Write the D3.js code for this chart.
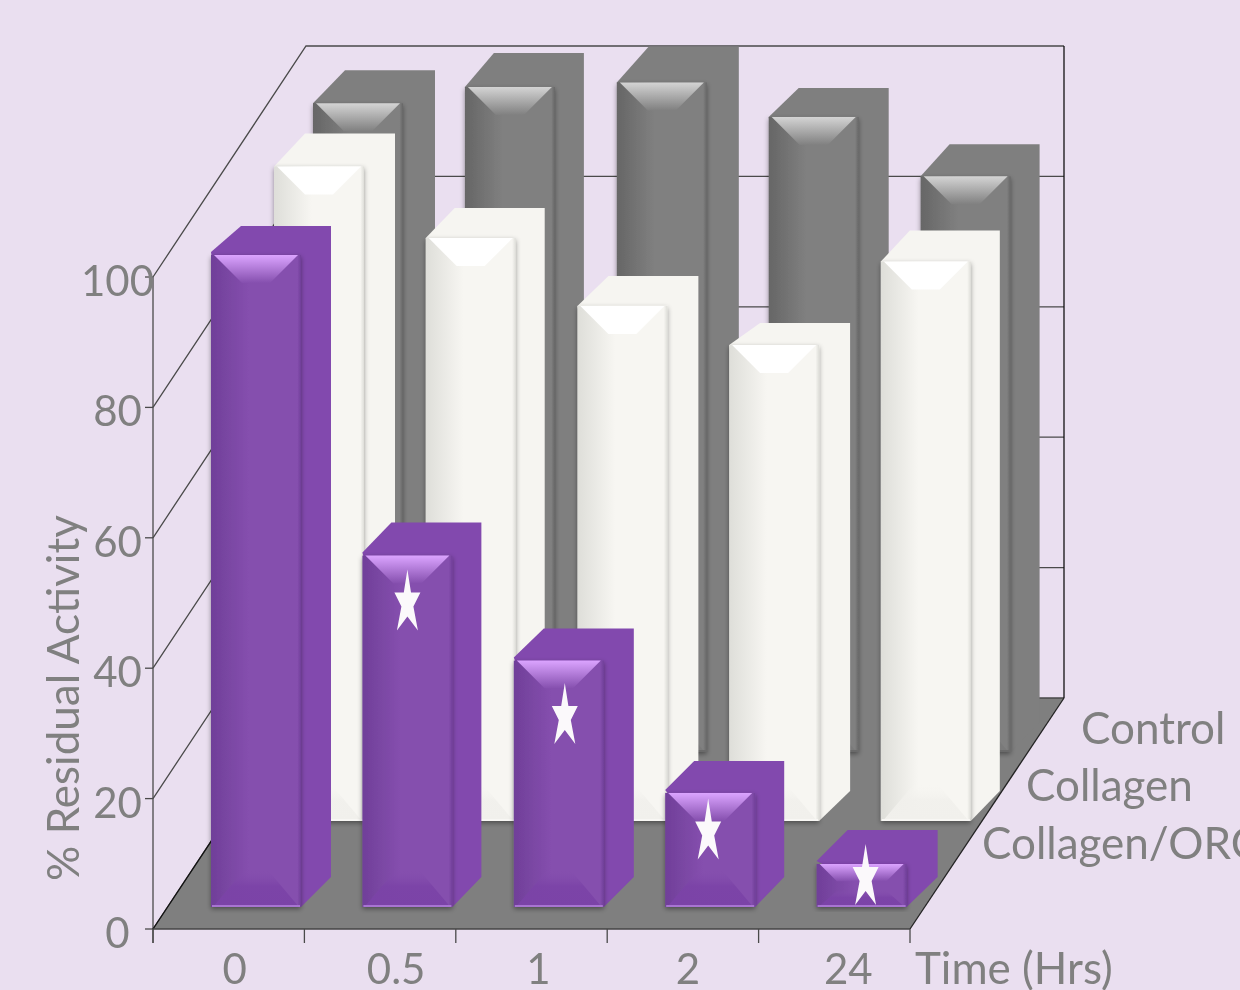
<!DOCTYPE html>
<html>
<head>
<meta charset="utf-8">
<script src="https://cdn.jsdelivr.net/npm/d3@7"></script>
<style>
html,body{margin:0;padding:0;background:#eadff0;overflow:hidden}
svg{display:block;filter:blur(0.45px)}
text{font-family:Lato,"Open Sans",sans-serif;fill:#808080}
</style>
</head>
<body>
<div id="chart"></div>
<script>
// ---- data ----
const categories = ["0","0.5","1","2","24"];
const seriesNames = ["Control","Collagen","Collagen/ORC"]; // back to front
const control     = [99.5,102,102.7,97.4,88.3];
const collagen    = [100.4,89.4,79,73,85.8];
const collagenORC = [100,53.9,37.8,17.5,6.6];
const starValues  = [null,47,29.6,11.9,4.9];
const yTicks      = [0,20,40,60,80,100];
const seriesValues = [control,collagen,collagenORC];

// ---- layout ----
const W=1240,H=990;
const floorFrontY=929, floorBackY=698, frontL=153, frontR=910, backL=306, backR=1064;
const x=d3.scaleBand().domain(categories).range([frontL,frontR]);
const h=d3.scaleLinear().domain([0,100]).range([0,652]);
const faceW=90;
const xOff =d3.scaleOrdinal().domain(seriesNames).range([160,121,58]);
const xStep=d3.scaleOrdinal().domain(seriesNames).range([0.5,0.3,0]);
const baseY=d3.scaleOrdinal().domain(seriesNames).range([752,821,907]);
const base =d3.scaleOrdinal().domain(seriesNames).range(["#7f7f7f","#f6f5f1","#8249ae"]);
const dark =d3.scaleOrdinal().domain(seriesNames).range(["#666666","#dedeD9","#703f99"]);
const mid  =d3.scaleOrdinal().domain(seriesNames).range(["#808080","#f7f6f2","#854fae"]);
const lite =d3.scaleOrdinal().domain(seriesNames).range(["#d4d4d4","#ffffff","#dba4ff"]);
const bevelEnd=d3.scaleOrdinal().domain(seriesNames).range(["#808080","#ffffff","#854fae"]);
const bottomFill=d3.scaleOrdinal().domain(seriesNames).range(["#7a7a7a","#f1f0ec","#7b43a7"]);
const bottomLine=d3.scaleOrdinal().domain(seriesNames).range(["#6a6a6a","#f8f7f4","#a874d2"]);
// hand-drawn depth of each bar's top face, as found in the picture
const topDepthX=[[32,29,32,30,29],[31,29,31,31,29],[30,29,30,29,31]];
const topDepthY=[[33,34,36,29,32],[33,30,30,22,31],[29,33,32,32,34]];
const floorDepth=30;
const labelDx=[6,16,7,5,14];
const starDx=[0,0,6,-2,4];

const svg=d3.select("#chart").append("svg").attr("width",W).attr("height",H);
svg.append("rect").attr("width",W).attr("height",H).attr("fill","#eadff0");
const defs=svg.append("defs");
const fl=defs.append("filter").attr("id","sh").attr("x","-20%").attr("y","-5%").attr("width","140%").attr("height","115%");
fl.append("feDropShadow").attr("dx",0).attr("dy",2).attr("stdDeviation",2.5).attr("flood-color","#000").attr("flood-opacity",.4);

seriesNames.forEach((s,i)=>{
  const g=defs.append("linearGradient").attr("id","face"+i);
  [[0,dark(s)],[.42,mid(s)],[.96,mid(s)],[1,dark(s)]].forEach(d=>g.append("stop").attr("offset",d[0]).attr("stop-color",d[1]));
  const t=defs.append("linearGradient").attr("id","top"+i).attr("x1",0).attr("x2",0).attr("y1",0).attr("y2",1);
  [[0,lite(s)],[1,bevelEnd(s)]].forEach(d=>t.append("stop").attr("offset",d[0]).attr("stop-color",d[1]));
  const u=defs.append("linearGradient").attr("id","bot"+i).attr("x1",0).attr("x2",0).attr("y1",0).attr("y2",1);
  [[0,mid(s),0],[.45,bottomFill(s),.9],[1,bottomFill(s),1]].forEach(d=>u.append("stop").attr("offset",d[0]).attr("stop-color",d[1]).attr("stop-opacity",d[2]));
});

const line=d3.line();
// floor
svg.append("path").attr("d",line([[frontL,floorFrontY],[frontR,floorFrontY],[backR,floorBackY],[backL,floorBackY]])+"Z").attr("fill","#7f7f7f");

// walls and gridlines
const grid=svg.append("g").attr("fill","none").attr("stroke","#4a4a4a").attr("stroke-width",1.3);
yTicks.forEach(t=>{
  grid.append("path").attr("d",line([[frontL,floorFrontY-h(t)],[backL,floorBackY-h(t)],[backR,floorBackY-h(t)]]));
  grid.append("line").attr("x1",frontL-8).attr("x2",frontL).attr("y1",floorFrontY-h(t)).attr("y2",floorFrontY-h(t));
});
grid.append("line").attr("x1",frontL).attr("x2",frontL).attr("y1",floorFrontY+14).attr("y2",floorFrontY-h(100));
grid.append("line").attr("x1",backR).attr("x2",backR).attr("y1",floorBackY).attr("y2",floorBackY-h(100)).attr("stroke","#111");
grid.append("path").attr("d",line([[frontL,floorFrontY],[backL,floorBackY]])).attr("stroke","#111");
grid.append("path").attr("d",line([[frontR,floorFrontY],[backR,floorBackY]])).attr("stroke","#222");
grid.append("line").attr("x1",frontL).attr("x2",frontR).attr("y1",floorFrontY).attr("y2",floorFrontY).attr("stroke","#444");
x.domain().concat(["end"]).forEach((c,i)=>{
  const px=frontL+i*x.step();
  grid.append("line").attr("x1",px).attr("x2",px).attr("y1",floorFrontY).attr("y2",floorFrontY+14);
});

// bars
seriesNames.forEach((s,si)=>{
  const layer=svg.append("g").attr("class","series");
  seriesValues[si].forEach((v,ci)=>{
    const c=categories[ci];
    const x0=x(c)+xOff(s)+xStep(s)*ci, x1=x0+faceW;
    const yB=baseY(s), yT=yB-h(v), dx=topDepthX[si][ci], dy=topDepthY[si][ci];
    const hgt=yB-yT, b=Math.min(28,hgt*0.4), bx=Math.min(32,hgt*0.45), by=Math.min(38,hgt*0.4);
    const lip=si===2?3:0;
    layer.append("path").attr("fill",base(s))
      .attr("d",line([[x0,yT-lip],[x0+dx,yT-dy],[x1+dx,yT-dy],[x1+dx,yB-floorDepth],[x1,yB]])+"Z");
    layer.append("rect").attr("x",x0).attr("y",yT).attr("width",faceW).attr("height",hgt)
      .attr("fill",`url(#face${si})`).attr("filter","url(#sh)");
    layer.append("path").attr("fill",`url(#top${si})`)
      .attr("d",line([[x0+3,yT],[x1-3,yT],[x1-3-b,yT+b],[x0+3+b,yT+b]])+"Z");
    layer.append("path").attr("fill",`url(#bot${si})`)
      .attr("d",line([[x0+2,yB],[x1-2,yB],[x1-2-bx,yB-by],[x0+2+bx,yB-by]])+"Z");
    layer.append("rect").attr("x",x0+1).attr("y",yB-2).attr("width",faceW-2).attr("height",2).attr("fill",bottomLine(s));
  });
});

// significance stars
const starShape=[[0,-31],[3.6,-8],[13,-8],[6,6],[10.5,30],[0,16],[-10.5,30],[-6,6],[-13,-8],[-3.6,-8]];
const purple=seriesNames[2];
starValues.forEach((v,i)=>{
  if(v===null) return;
  const cx=x(categories[i])+xOff(purple)+faceW/2+starDx[i], cy=baseY(purple)-h(v);
  svg.append("path").attr("fill","#fbf9fb").attr("transform",`translate(${cx},${cy})`).attr("d",line(starShape)+"Z");
});

// text
const fs=42, fsName=44;
yTicks.forEach(t=>svg.append("text").attr("x",117.5).attr("y",floorFrontY-h(t)+19).attr("text-anchor","middle").attr("font-size",fs).text(t));
categories.forEach((c,i)=>svg.append("text").attr("x",x(c)+x.bandwidth()/2+labelDx[i]).attr("y",984).attr("text-anchor","middle").attr("font-size",fs).text(c));
svg.append("text").attr("x",915).attr("y",984).attr("font-size",fsName).text("Time (Hrs)");
svg.append("text").attr("x",1081).attr("y",744).attr("font-size",fsName).text("Control");
svg.append("text").attr("x",1026).attr("y",801).attr("font-size",fsName).text("Collagen");
svg.append("text").attr("x",982).attr("y",859).attr("font-size",fsName).text("Collagen/ORC");
svg.append("text").attr("transform","translate(79,698) rotate(-90)").attr("text-anchor","middle").attr("font-size",44).text("% Residual Activity");
</script>
</body>
</html>
